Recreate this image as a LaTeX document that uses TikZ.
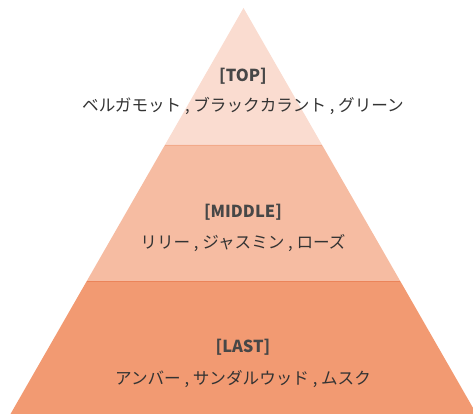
\documentclass[tikz,border=0pt]{standalone}
\usepackage{fontspec}
\newfontfamily\jpfont{Noto Sans CJK JP}
\definecolor{topfill}{HTML}{FADCD0}
\definecolor{midfill}{HTML}{F6BCA2}
\definecolor{lastfill}{HTML}{F29A72}
\definecolor{midline}{HTML}{F2AA8A}
\definecolor{lastline}{HTML}{EB845A}
\definecolor{notetext}{HTML}{333333}
\tikzset{
  tiertitle/.style={font=\jpfont\bfseries\fontsize{16.5}{20}\selectfont, text=notetext!90, inner sep=0pt},
  tiernotes/.style={font=\jpfont\fontsize{16.6}{20}\selectfont, text=notetext, inner sep=0pt}
}

\begin{document}
\begin{tikzpicture}[x=1pt, y=-1pt]
	\useasboundingbox (0,0) rectangle (473,414);
	\fill[topfill] (243.5,8) -- (243.5-78.6,145) -- (243.5+78.6,145) -- cycle;
	\fill[midfill] (243.5-78.6,145) -- (243.5+78.6,145) -- (243.5+156.7,281) -- (243.5-156.7,281) -- cycle;
	\fill[lastfill] (243.5-156.7,281) -- (243.5+156.7,281) -- (243.5+233,414) -- (243.5-233,414) -- cycle;
	\draw[midline, line width=0.8pt] (243.5-78.6,145) -- (243.5+78.6,145);
	\draw[lastline, line width=0.8pt] (243.5-156.7,281) -- (243.5+156.7,281);
	\node[tiertitle] (toptitle) at (243,76) {[TOP]};
	\node[tiernotes] (topnotes) at (243,106) {ベルガモット , ブラックカラント , グリーン};
	\node[tiertitle] (midtitle) at (243,212) {[MIDDLE]};
	\node[tiernotes] (midnotes) at (243,243) {リリー , ジャスミン , ローズ};
	\node[tiertitle] (lasttitle) at (243,347) {[LAST]};
	\node[tiernotes] (lastnotes) at (243,379) {アンバー , サンダルウッド , ムスク};
\end{tikzpicture}
\end{document}
